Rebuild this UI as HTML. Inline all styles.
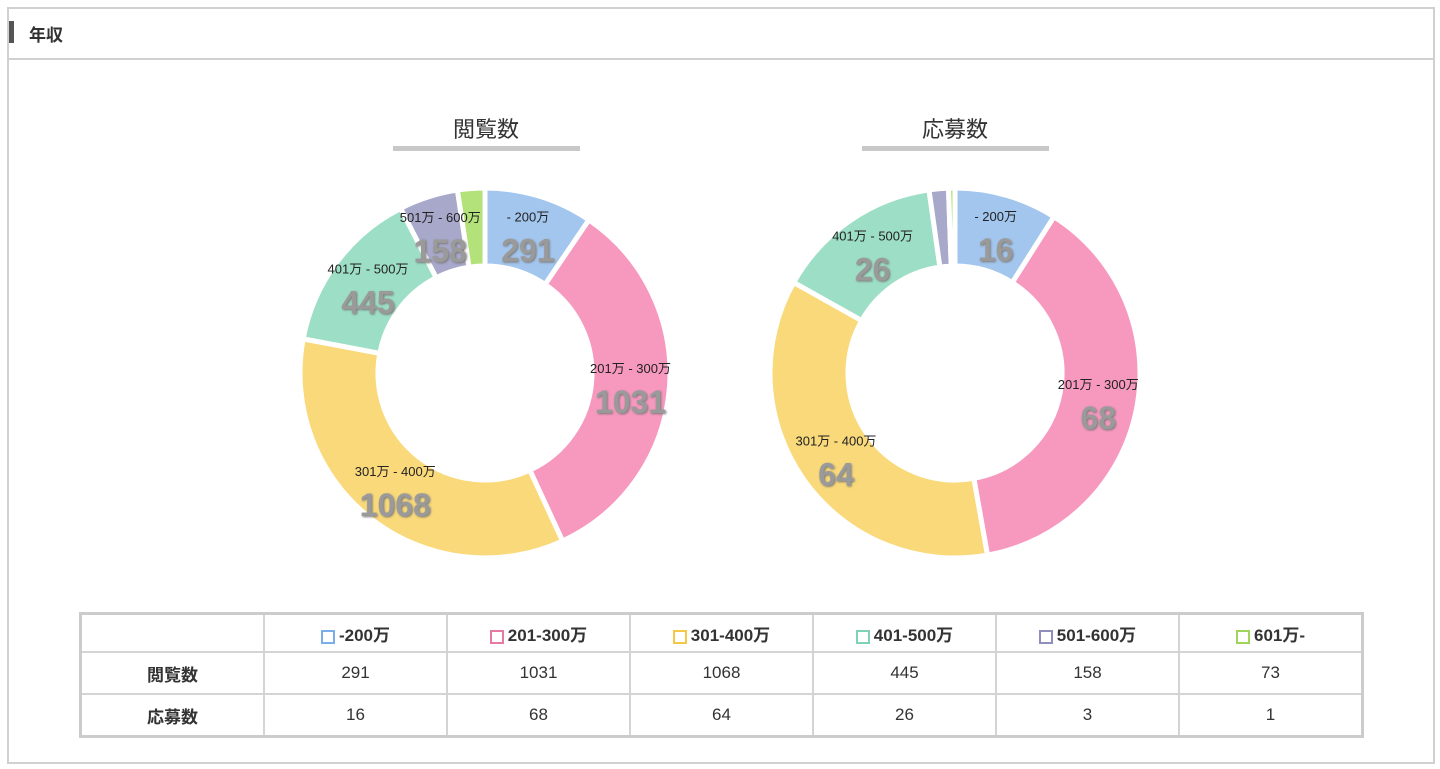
<!DOCTYPE html>
<html><head><meta charset="utf-8"><style>
body{margin:0;width:1440px;height:769px;background:#fff;font-family:"Liberation Sans","Noto Sans CJK JP",sans-serif;position:relative;overflow:hidden}
.frame{position:absolute;left:7px;top:7px;width:1424px;height:753px;border:2px solid #d0d0d0}
.hdr{position:absolute;left:0;top:0;width:1424px;height:49px;border-bottom:2px solid #d0d0d0}
.bar{position:absolute;left:0;top:12px;width:5px;height:22px;background:#555}
.ht{position:absolute;left:20px;top:12px;font-size:17px;font-weight:bold;color:#333}
.title{position:absolute;font-size:22px;color:#333;text-align:center;width:200px}
.ul{position:absolute;height:5px;background:#c8c8c8}
table{position:absolute;left:79px;top:612px;border-collapse:collapse;border:3px solid #ccc}
td{border:2px solid #d4d4d4;text-align:center;font-size:17px;color:#333;width:181px;padding:0}
td.f{width:181px;font-weight:bold}
tr.h td{height:36px;font-weight:bold}
tr.r td{height:40px}
.sq{display:inline-block;width:14px;height:14px;border:2px solid;vertical-align:-3px;margin-right:4px;box-sizing:border-box}
svg{position:absolute;left:0;top:0}
</style></head><body>
<div class="frame"><div class="hdr"><div class="bar"></div><div class="ht">年収</div></div></div>
<div class="title" style="left:386px;top:112px">閲覧数</div>
<div class="ul" style="left:393px;top:146px;width:187px"></div>
<div class="title" style="left:855px;top:112px">応募数</div>
<div class="ul" style="left:862px;top:146px;width:187px"></div>
<svg id="s" width="1440" height="769"></svg>
<table>
<tr class="h"><td class="f"></td>
<td><span class="sq" style="border-color:#7aaee8"></span>-200万</td>
<td><span class="sq" style="border-color:#e77aa5"></span>201-300万</td>
<td><span class="sq" style="border-color:#f5c84a"></span>301-400万</td>
<td><span class="sq" style="border-color:#7fd3b3"></span>401-500万</td>
<td><span class="sq" style="border-color:#8f8fbb"></span>501-600万</td>
<td><span class="sq" style="border-color:#9fd65a"></span>601万-</td></tr>
<tr class="r"><td class="f">閲覧数</td><td>291</td><td>1031</td><td>1068</td><td>445</td><td>158</td><td>73</td></tr>
<tr class="r"><td class="f">応募数</td><td>16</td><td>68</td><td>64</td><td>26</td><td>3</td><td>1</td></tr>
</table>
<script>
var cols=["#a3c6ee","#f798bf","#f9d97a","#9ddfc6","#a8a8cb","#b4e27a"];
var labs=["- 200万","201万 - 300万","301万 - 400万","401万 - 500万","501万 - 600万","601万 -"];
var s=document.getElementById("s"),out="";
function donut(cx,cy,vals){
 var R=185,r=107,t=0,tot=vals.reduce(function(a,b){return a+b},0),txt="";
 vals.forEach(function(v,i){
  var a0=t/tot*2*Math.PI,a1=(t+v)/tot*2*Math.PI;t+=v;
  var big=(a1-a0)>Math.PI?1:0;
  function p(rad,a){return (cx+rad*Math.sin(a)).toFixed(2)+","+(cy-rad*Math.cos(a)).toFixed(2)}
  out+='<path d="M'+p(R,a0)+'A'+R+','+R+' 0 '+big+' 1 '+p(R,a1)+'L'+p(r,a1)+'A'+r+','+r+' 0 '+big+' 0 '+p(r,a0)+'Z" fill="'+cols[i]+'" stroke="#fff" stroke-width="5"/>';
  if(v/tot>0.03){var am=(a0+a1)/2,x=cx+146*Math.sin(am),y=cy-146*Math.cos(am);
   txt+='<text x="'+x+'" y="'+(y-12)+'" font-size="13" fill="#222" text-anchor="middle">'+labs[i]+'</text>';
   txt+='<text x="'+x+'" y="'+(y+28)+'" font-size="32" font-weight="bold" fill="#9a9a9a" text-anchor="middle" style="text-shadow:1px 1px 2px #777">'+v+'</text>';}
 });
 out+=txt;
}
donut(485,373,[291,1031,1068,445,158,73]);
donut(955,373,[16,68,64,26,3,1]);
s.innerHTML=out;
</script>
</body></html>
